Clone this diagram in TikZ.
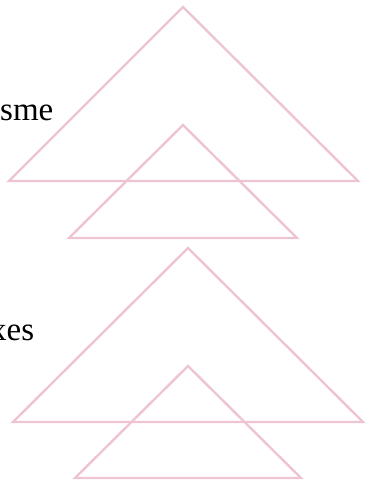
\documentclass[tikz,border=0pt]{standalone}
\usepackage{fontspec}
\setmainfont{Liberation Serif}
\definecolor{tri}{RGB}{238,196,208}
\begin{document}
\begin{tikzpicture}[x=1pt,y=-1pt,
  tristyle/.style={draw=tri,line width=2.4pt,line join=miter},
  lbl/.style={inner sep=0pt,anchor=base west,font=\fontsize{33}{40}\selectfont}]
\useasboundingbox (0,0) rectangle (376,482);
\begin{scope}
\clip (0,0) rectangle (376,482);
\node[lbl] (t1) at (0,120) {sme};
\node[lbl] (t2) at (-10,340) {xes};
\end{scope}
\coordinate (a1) at (183,7);
\coordinate (b1) at (9,181);
\coordinate (c1) at (358,181);
\draw[tristyle] (a1) -- (b1) -- (c1) -- cycle;
\coordinate (a2) at (183,125);
\coordinate (b2) at (69,238);
\coordinate (c2) at (297,238);
\draw[tristyle] (a2) -- (b2) -- (c2) -- cycle;
\coordinate (a3) at (188,248);
\coordinate (b3) at (13,422);
\coordinate (c3) at (363,422);
\draw[tristyle] (a3) -- (b3) -- (c3) -- cycle;
\coordinate (a4) at (188,366);
\coordinate (b4) at (75,478);
\coordinate (c4) at (301,478);
\draw[tristyle] (a4) -- (b4) -- (c4) -- cycle;
\end{tikzpicture}
\end{document}
